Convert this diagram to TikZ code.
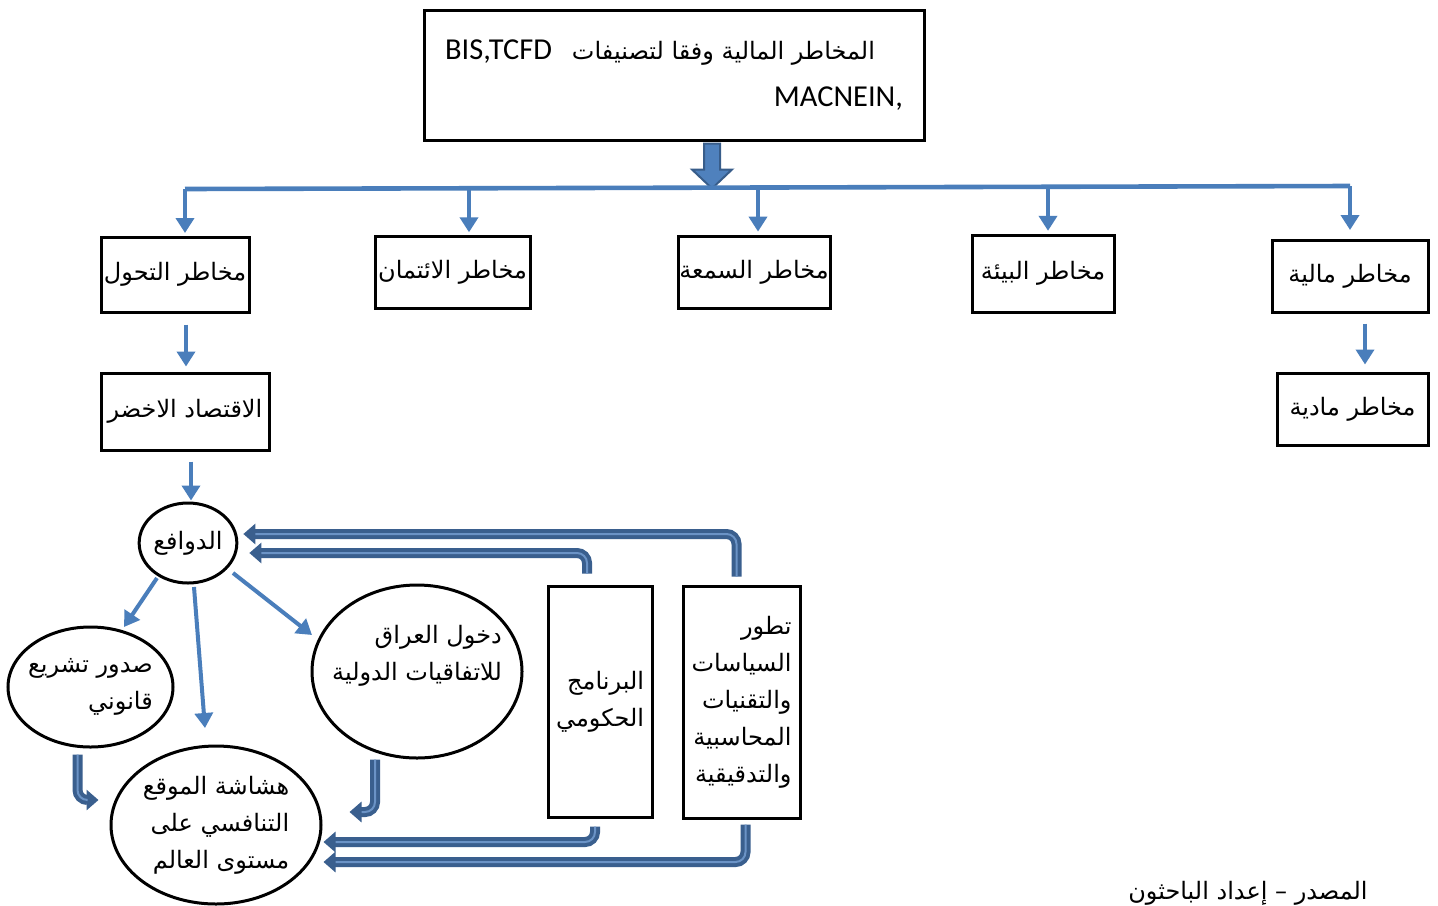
\documentclass[tikz,border=0pt]{standalone}
\usepackage{fontspec}
\setmainfont{Liberation Sans}
\newfontfamily\arfont[Script=Arabic]{DejaVu Sans}
\newfontfamily\latfont{Carlito}
\TeXXeTstate=1
\usetikzlibrary{arrows.meta,shapes.geometric,calc}
\newcommand{\AR}[1]{{\arfont\beginR #1\endR}}
\definecolor{accent}{HTML}{4A7EBB}
\definecolor{darkpipe}{HTML}{3A5F8E}
\definecolor{lightpipe}{HTML}{6B93C6}
\definecolor{fatfill}{HTML}{4F81BD}
\definecolor{fatline}{HTML}{385D8A}
\begin{document}
\begin{tikzpicture}[x=0.5pt,y=-0.5pt, font=\fontsize{12}{18.5}\selectfont,
 box/.style={draw, line width=1.5pt, inner sep=0pt, align=center},
 ell/.style={draw, ellipse, line width=1.5pt, inner sep=0pt, align=right},
 arr/.style={accent, line width=2pt, -{Triangle[length=7.5pt,width=9pt]}},
 pipeout/.style={darkpipe, line width=5pt, rounded corners=5pt, -{Triangle[length=6pt,width=10pt]}},
 pipein/.style={lightpipe, line width=1pt, rounded corners=5pt, shorten >=6pt},
 fat/.style={fill=fatfill, draw=fatline, line width=1pt, line join=miter}]
\useasboundingbox (0,0) rectangle (1438,905);
\fill[white] (0,0) rectangle (1438,905);
% top box
\node[box, minimum width=250pt, minimum height=65pt, align=right,
  font=\fontsize{12}{23.5}\selectfont] (top) at (674,75)
  {\AR{المخاطر المالية وفقا لتصنيفات\hspace{10pt}\beginL{\latfont\fontsize{15.2}{18}\selectfont BIS,TCFD}\endL}\hspace*{14pt}\null\\ {\latfont\fontsize{15.2}{18}\selectfont MACNEIN,}};
% row of risks
\node[box, minimum width=74pt, minimum height=37.5pt] (t1) at (175,274.5) {\AR{مخاطر التحول}};
\node[box, minimum width=77.5pt, minimum height=36pt] (t2) at (452.5,272) {\AR{مخاطر الائتمان}};
\node[box, minimum width=76pt, minimum height=36pt] (t3) at (754,272) {\AR{مخاطر السمعة}};
\node[box, minimum width=71pt, minimum height=38.5pt] (t4) at (1043,273.5) {\AR{مخاطر البيئة}};
\node[box, minimum width=78pt, minimum height=36pt] (t5) at (1350,276) {\AR{مخاطر مالية}};
\node[box, minimum width=84pt, minimum height=38.5pt] (g) at (185,411.5) {\AR{الاقتصاد الاخضر}};
\node[box, minimum width=75.5pt, minimum height=36pt] (m) at (1352.5,409) {\AR{مخاطر مادية}};
% ellipses
\node[ell, minimum width=48pt, minimum height=40pt] (d) at (188,543) {\AR{الدوافع}};
\node[ell, inner sep=-8pt, minimum width=82.5pt, minimum height=60pt] (s) at (90.5,687) {\AR{صدور تشريع}\\\AR{قانوني}};
\node[ell, minimum width=105pt, minimum height=79pt] (h) at (216,825) {\AR{هشاشة الموقع}\\\AR{التنافسي على}\\\AR{مستوى العالم}};
\node[ell, inner sep=-12pt, minimum width=105pt, minimum height=86.5pt] (e) at (417,671.5) {\AR{دخول العراق}\\\AR{للاتفاقيات الدولية}\\\mbox{}};
% tall boxes
\node[box, minimum width=52pt, minimum height=115.5pt, align=right] (prog) at (600,701.5) {\AR{البرنامج}\\\AR{الحكومي}};
\node[box, minimum width=58.5pt, minimum height=116pt, align=right] (dev) at (741.5,702) {\AR{تطور}\\\AR{السياسات}\\\AR{والتقنيات}\\\AR{المحاسبية}\\\AR{والتدقيقية}};
% caption
\node[anchor=base east, inner sep=0pt] (src) at (1368,899) {\AR{المصدر – إعداد الباحثون}};
% fat arrow
\coordinate (fa) at ($(top.south)+(38,2)$);
\draw[fat] (fa) ++(-8,0) -- ++(0,26) -- ++(-12,0) -- ++(20,19) -- ++(20,-19) -- ++(-12,0) -- ++(0,-26) -- cycle;
% bus
\coordinate (b1) at (185,189);
\coordinate (b2) at (469,188.3);
\coordinate (b3) at (758,187.6);
\coordinate (b4) at (1048,186.8);
\coordinate (b5) at (1350,186);
\draw[accent, line width=2.3pt] (b1) -- (b5);
\foreach \b in {b1,b2,b3,b4,b5} \draw[arr] (\b) -- ($(\b)+(0,44)$);
% vertical arrows
\draw[arr] ($(t1.south)+(11,11)$) -- ($(g.north)+(1,-5)$);
\draw[arr] ($(t5.south)+(15,10)$) -- ($(m.north)+(12.5,-7)$);
\draw[arr] ($(g.south)+(6,10)$) -- ($(d.north)+(3,-1)$);
% arrows from d
\draw[arr] ($(d.center)+(-31,35)$) -- ($(s.center)+(33.5,-60)$);
\draw[arr] ($(d.center)+(6,44)$) -- ($(h.center)+(-11,-97)$);
\draw[arr] ($(d.center)+(45,30)$) -- ($(e.center)+(-105,-36.5)$);
% pipes
\foreach \st in {pipeout,pipein}{
  \draw[\st] ($(dev.north)+(-5,-8)$) |- ($(d.east)+(5,-9)$);
  \draw[\st] ($(prog.north)+(-13,-11)$) |- ($(d.east)+(11,10)$);
  \draw[\st] ($(prog.south)+(-5,8)$) |- ($(h.east)+(1,17)$);
  \draw[\st] ($(dev.south)+(4,5)$) |- ($(h.east)+(1,37)$);
  \draw[\st] ($(s.south)+(-13,6)$) |- ($(h.west)+(-11,-25)$);
  \draw[\st] ($(e.south)+(-42,0)$) |- ($(h.east)+(27,-13)$);
}
\end{tikzpicture}
\end{document}
